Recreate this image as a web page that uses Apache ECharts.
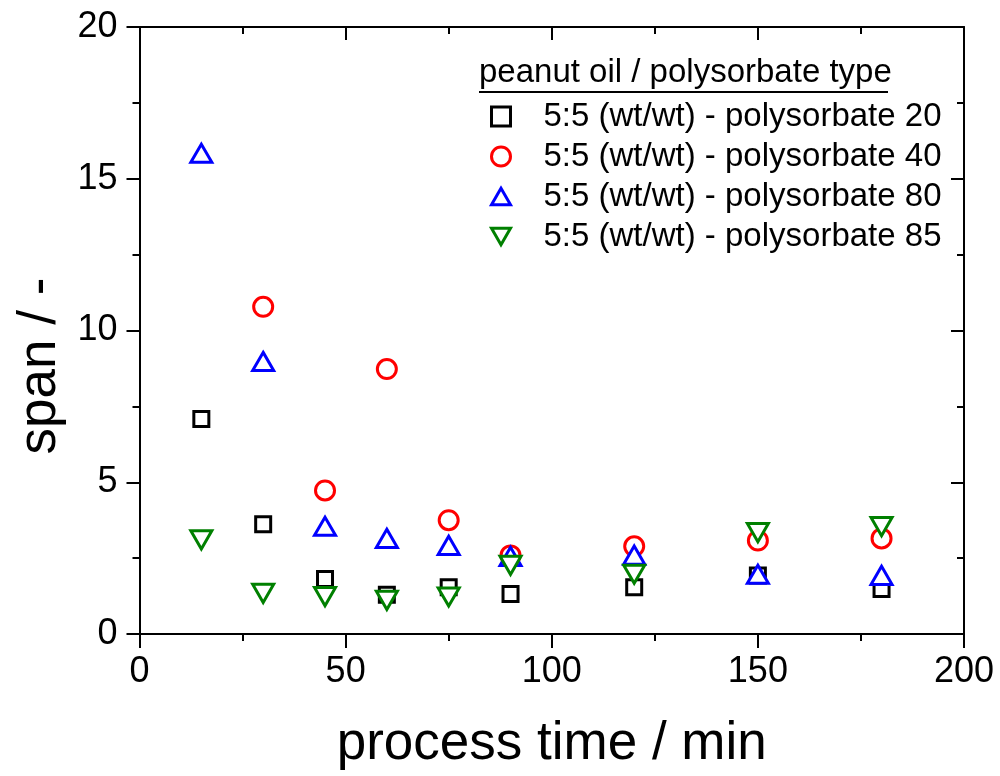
<!DOCTYPE html>
<html>
<head>
<meta charset="utf-8">
<script src="https://cdn.jsdelivr.net/npm/echarts@6/dist/echarts.min.js"></script>
<style>
  html, body { margin: 0; padding: 0; background: #fff; }
  #chart { width: 1000px; height: 776px; }
</style>
</head>
<body>
<div id="chart"></div>
<script>
// process time in minutes
const processTime = [15, 30, 45, 60, 75, 90, 120, 150, 180];

// span values per polysorbate type (peanut oil / polysorbate 5:5 wt/wt)
const spanP20 = [7.08, 3.62, 1.81, 1.29, 1.54, 1.32, 1.54, 1.93, 1.48];
const spanP40 = [null, 10.78, 4.73, 8.73, 3.75, 2.59, 2.89, 3.08, 3.15];
const spanP80 = [15.84, 8.98, 3.55, 3.15, 2.92, 2.56, 2.60, 1.97, 1.93];
const spanP85 = [3.10, 1.34, 1.23, 1.11, 1.22, 2.26, 1.97, 3.34, 3.54];

const seriesNames = [
  '5:5 (wt/wt) - polysorbate 20',
  '5:5 (wt/wt) - polysorbate 40',
  '5:5 (wt/wt) - polysorbate 80',
  '5:5 (wt/wt) - polysorbate 85'
];

const FONT = 'Liberation Sans, Arial, sans-serif';
const downTriangle = 'path://M0,0 L20,0 L10,17.3 Z';
const upTriangle = 'path://M10,0 L20,17.3 L0,17.3 Z';

function pairs(values) {
  return processTime.map((t, i) => [t, values[i]]).filter(p => p[1] !== null);
}

function scatter(name, values, symbol, size, color) {
  return {
    name: name,
    type: 'scatter',
    xAxisIndex: 0,
    yAxisIndex: 0,
    data: pairs(values),
    symbol: symbol,
    symbolSize: size,
    symbolKeepAspect: true,
    itemStyle: { color: '#ffffff', borderColor: color, borderWidth: 3, opacity: 1 },
    emphasis: { disabled: true },
    z: 3
  };
}

const chart = echarts.init(document.getElementById('chart'), null, { renderer: 'canvas' });

const frameLine = { show: true, onZero: false, lineStyle: { color: '#000', width: 2 } };
const tickStyle = { color: '#000', width: 2 };

chart.setOption({
  animation: false,
  backgroundColor: '#ffffff',
  grid: { left: 139.5, right: 36, top: 27, bottom: 139, containLabel: false },
  xAxis: [
    {
      type: 'value', min: 0, max: 200, interval: 50, position: 'bottom',
      name: 'process time / min', nameLocation: 'middle', nameGap: 84,
      nameTextStyle: { fontFamily: FONT, fontSize: 53, color: '#000' },
      axisLine: frameLine,
      axisTick: { show: true, inside: false, length: 14, lineStyle: tickStyle },
      minorTick: { show: true, splitNumber: 2, length: 7, lineStyle: tickStyle },
      axisLabel: { fontFamily: FONT, fontSize: 36, color: '#000', margin: 20 },
      splitLine: { show: false }
    },
    {
      type: 'value', min: 0, max: 200, interval: 50, position: 'top',
      axisLine: frameLine,
      axisTick: { show: true, inside: true, length: 13, lineStyle: tickStyle },
      minorTick: { show: true, splitNumber: 2, length: 7, lineStyle: tickStyle },
      axisLabel: { show: false },
      splitLine: { show: false }
    }
  ],
  yAxis: [
    {
      type: 'value', min: 0, max: 20, interval: 5, position: 'left',
      axisLine: frameLine,
      axisTick: { show: true, inside: false, length: 13, lineStyle: tickStyle },
      minorTick: { show: true, splitNumber: 2, length: 7, lineStyle: tickStyle },
      axisLabel: { fontFamily: FONT, fontSize: 36, color: '#000', margin: 22 },
      splitLine: { show: false }
    },
    {
      type: 'value', min: 0, max: 20, interval: 5, position: 'right',
      axisLine: frameLine,
      axisTick: { show: true, inside: true, length: 13, lineStyle: tickStyle },
      minorTick: { show: true, splitNumber: 2, length: 7, lineStyle: tickStyle },
      axisLabel: { show: false },
      splitLine: { show: false }
    }
  ],
  legend: {
    orient: 'vertical',
    left: 490,
    top: 100,
    padding: 0,
    itemWidth: 19,
    itemHeight: 19,
    itemGap: 7,
    selectedMode: false,
    data: seriesNames,
    itemStyle: { borderWidth: 3 },
    textStyle: { fontFamily: FONT, fontSize: 33, color: '#000', padding: [0, 0, 0, 28] }
  },
  graphic: [
    {
      type: 'text', x: 40, y: 366, rotation: Math.PI / 2,
      style: { text: 'span / -', font: '53px ' + FONT, fill: '#000', align: 'center', verticalAlign: 'middle' }
    },
    {
      type: 'text', left: 479, top: 56,
      style: { text: 'peanut oil / polysorbate type', font: '33px ' + FONT, fill: '#000' }
    },
    {
      type: 'line', shape: { x1: 479, y1: 92, x2: 888, y2: 92 },
      style: { stroke: '#000', lineWidth: 2 }
    }
  ],
  series: [
    scatter(seriesNames[0], spanP20, 'rect', 15, '#000000'),
    scatter(seriesNames[1], spanP40, 'circle', 19, '#ff0000'),
    scatter(seriesNames[2], spanP80, upTriangle, 21, '#0000ff'),
    scatter(seriesNames[3], spanP85, downTriangle, 21, '#008000')
  ]
});
</script>
</body>
</html>
